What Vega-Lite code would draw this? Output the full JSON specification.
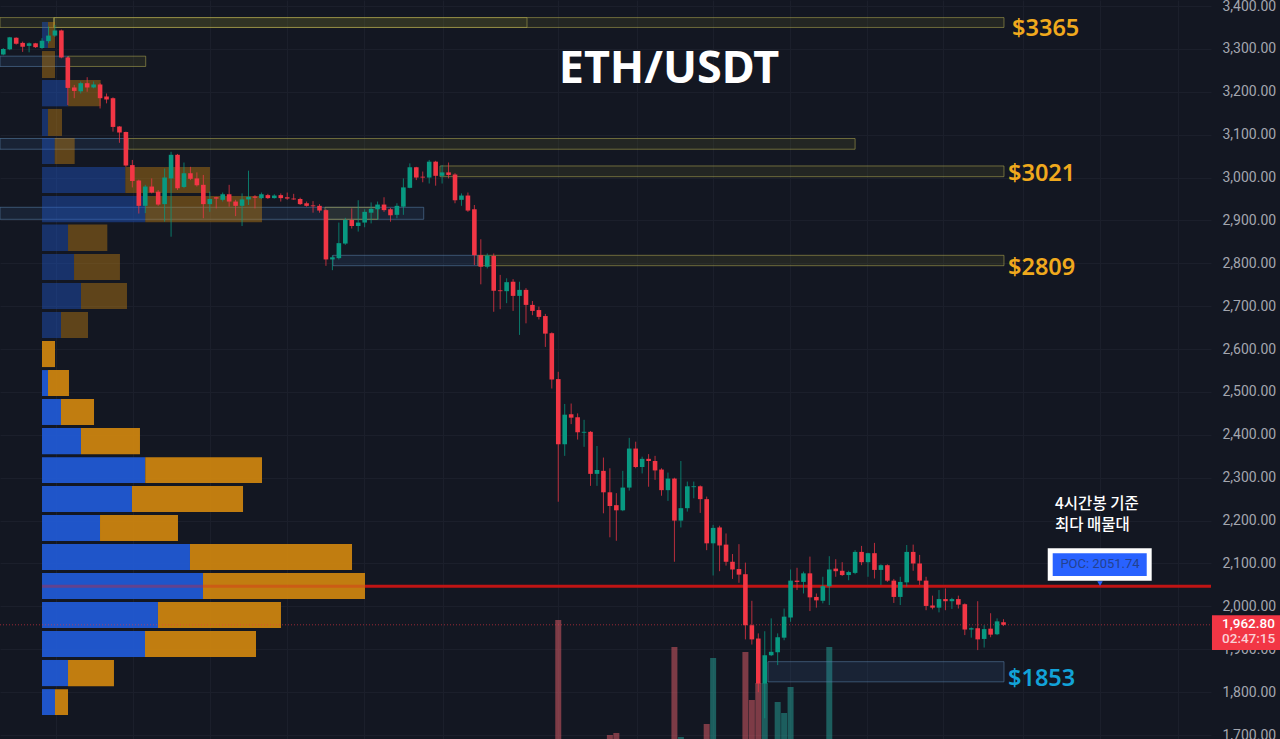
{"$schema":"https://vega.github.io/schema/vega-lite/v6.json","width":1211,"height":739,"autosize":{"type":"none"},"padding":{"left":0,"top":0,"right":69,"bottom":0},"background":"#131722","view":{"stroke":null},
"datasets":{
"candles":[
{"t":0,"o":3287,"h":3302,"l":3285,"c":3300},{"t":1,"o":3299,"h":3328,"l":3297,"c":3327},{"t":2,"o":3326,"h":3327,"l":3310,"c":3312},{"t":3,"o":3314,"h":3317,"l":3293,"c":3305},{"t":4,"o":3307,"h":3315,"l":3292,"c":3313},{"t":5,"o":3313,"h":3314,"l":3302,"c":3304},{"t":6,"o":3302,"h":3325,"l":3300,"c":3319},{"t":7,"o":3318,"h":3352,"l":3313,"c":3331},{"t":8,"o":3331,"h":3356,"l":3328,"c":3343},{"t":9,"o":3343,"h":3345,"l":3278,"c":3280},
{"t":10,"o":3280,"h":3281,"l":3169,"c":3209},{"t":11,"o":3210,"h":3216,"l":3185,"c":3202},{"t":12,"o":3201,"h":3224,"l":3196,"c":3220},{"t":13,"o":3220,"h":3234,"l":3200,"c":3210},{"t":14,"o":3210,"h":3224,"l":3208,"c":3217},{"t":15,"o":3217,"h":3220,"l":3161,"c":3185},{"t":16,"o":3189,"h":3196,"l":3173,"c":3182},{"t":17,"o":3185,"h":3187,"l":3107,"c":3118},{"t":18,"o":3119,"h":3120,"l":3081,"c":3105},{"t":19,"o":3106,"h":3107,"l":3025,"c":3028},
{"t":20,"o":3029,"h":3041,"l":2977,"c":2992},{"t":21,"o":2993,"h":2995,"l":2916,"c":2934},{"t":22,"o":2934,"h":2983,"l":2917,"c":2979},{"t":23,"o":2979,"h":2998,"l":2963,"c":2965},{"t":24,"o":2967,"h":2971,"l":2934,"c":2937},{"t":25,"o":2938,"h":3021,"l":2897,"c":3000},{"t":26,"o":2998,"h":3060,"l":2862,"c":3053},{"t":27,"o":3053,"h":3055,"l":2971,"c":2975},{"t":28,"o":2978,"h":3035,"l":2975,"c":3010},{"t":29,"o":3010,"h":3025,"l":2994,"c":2997},
{"t":30,"o":2998,"h":3012,"l":2979,"c":2982},{"t":31,"o":2983,"h":3006,"l":2905,"c":2938},{"t":32,"o":2938,"h":2967,"l":2920,"c":2950},{"t":33,"o":2954,"h":2955,"l":2928,"c":2951},{"t":34,"o":2948,"h":2965,"l":2944,"c":2961},{"t":35,"o":2961,"h":2983,"l":2932,"c":2944},{"t":36,"o":2944,"h":2948,"l":2910,"c":2934},{"t":37,"o":2934,"h":2963,"l":2887,"c":2949},{"t":38,"o":2949,"h":3016,"l":2936,"c":2955},{"t":39,"o":2956,"h":2959,"l":2928,"c":2953},
{"t":40,"o":2952,"h":2965,"l":2950,"c":2961},{"t":41,"o":2959,"h":2962,"l":2950,"c":2952},{"t":42,"o":2952,"h":2961,"l":2951,"c":2958},{"t":43,"o":2959,"h":2963,"l":2944,"c":2952},{"t":44,"o":2954,"h":2965,"l":2948,"c":2951},{"t":45,"o":2951,"h":2962,"l":2948,"c":2949},{"t":46,"o":2950,"h":2953,"l":2936,"c":2938},{"t":47,"o":2940,"h":2944,"l":2932,"c":2934},{"t":48,"o":2935,"h":2945,"l":2918,"c":2933},{"t":49,"o":2934,"h":2938,"l":2918,"c":2923},
{"t":50,"o":2924,"h":2926,"l":2794,"c":2809},{"t":51,"o":2809,"h":2819,"l":2784,"c":2814},{"t":52,"o":2812,"h":2895,"l":2809,"c":2847},{"t":53,"o":2846,"h":2906,"l":2843,"c":2901},{"t":54,"o":2901,"h":2928,"l":2881,"c":2887},{"t":55,"o":2887,"h":2947,"l":2874,"c":2895},{"t":56,"o":2895,"h":2926,"l":2884,"c":2920},{"t":57,"o":2918,"h":2942,"l":2893,"c":2927},{"t":58,"o":2926,"h":2944,"l":2901,"c":2937},{"t":59,"o":2937,"h":2954,"l":2920,"c":2924},
{"t":60,"o":2926,"h":2929,"l":2897,"c":2912},{"t":61,"o":2913,"h":2940,"l":2905,"c":2934},{"t":62,"o":2932,"h":2998,"l":2913,"c":2977},{"t":63,"o":2976,"h":3033,"l":2975,"c":3024},{"t":64,"o":3024,"h":3025,"l":2994,"c":3000},{"t":65,"o":3002,"h":3014,"l":2989,"c":3000},{"t":66,"o":3000,"h":3041,"l":2986,"c":3037},{"t":67,"o":3037,"h":3039,"l":2981,"c":3004},{"t":68,"o":3004,"h":3029,"l":2986,"c":3012},{"t":69,"o":3012,"h":3035,"l":2998,"c":3006},
{"t":70,"o":3007,"h":3010,"l":2940,"c":2947},{"t":71,"o":2948,"h":2963,"l":2934,"c":2958},{"t":72,"o":2958,"h":2965,"l":2920,"c":2923},{"t":73,"o":2926,"h":2936,"l":2796,"c":2819},{"t":74,"o":2819,"h":2856,"l":2751,"c":2792},{"t":75,"o":2792,"h":2823,"l":2788,"c":2818},{"t":76,"o":2817,"h":2823,"l":2687,"c":2736},{"t":77,"o":2737,"h":2773,"l":2693,"c":2735},{"t":78,"o":2735,"h":2765,"l":2707,"c":2756},{"t":79,"o":2757,"h":2763,"l":2689,"c":2724},
{"t":80,"o":2724,"h":2757,"l":2633,"c":2738},{"t":81,"o":2738,"h":2742,"l":2660,"c":2703},{"t":82,"o":2703,"h":2712,"l":2679,"c":2689},{"t":83,"o":2691,"h":2699,"l":2669,"c":2675},{"t":84,"o":2677,"h":2682,"l":2605,"c":2636},{"t":85,"o":2637,"h":2639,"l":2508,"c":2529},{"t":86,"o":2530,"h":2547,"l":2244,"c":2378},{"t":87,"o":2378,"h":2472,"l":2351,"c":2447},{"t":88,"o":2448,"h":2473,"l":2425,"c":2440},{"t":89,"o":2441,"h":2450,"l":2389,"c":2406},
{"t":90,"o":2405,"h":2435,"l":2372,"c":2407},{"t":91,"o":2407,"h":2409,"l":2281,"c":2309},{"t":92,"o":2309,"h":2374,"l":2281,"c":2318},{"t":93,"o":2316,"h":2347,"l":2217,"c":2266},{"t":94,"o":2266,"h":2322,"l":2161,"c":2234},{"t":95,"o":2236,"h":2264,"l":2153,"c":2224},{"t":96,"o":2224,"h":2316,"l":2222,"c":2277},{"t":97,"o":2277,"h":2393,"l":2270,"c":2368},{"t":98,"o":2368,"h":2384,"l":2322,"c":2325},{"t":99,"o":2325,"h":2349,"l":2310,"c":2344},
{"t":100,"o":2344,"h":2355,"l":2279,"c":2339},{"t":101,"o":2339,"h":2351,"l":2295,"c":2317},{"t":102,"o":2319,"h":2322,"l":2258,"c":2271},{"t":103,"o":2271,"h":2312,"l":2246,"c":2298},{"t":104,"o":2298,"h":2300,"l":2104,"c":2200},{"t":105,"o":2200,"h":2339,"l":2184,"c":2229},{"t":106,"o":2229,"h":2291,"l":2221,"c":2280},{"t":107,"o":2278,"h":2291,"l":2252,"c":2280},{"t":108,"o":2280,"h":2282,"l":2218,"c":2250},{"t":109,"o":2250,"h":2256,"l":2131,"c":2147},
{"t":110,"o":2147,"h":2190,"l":2072,"c":2183},{"t":111,"o":2184,"h":2188,"l":2082,"c":2142},{"t":112,"o":2144,"h":2170,"l":2095,"c":2104},{"t":113,"o":2104,"h":2122,"l":2064,"c":2086},{"t":114,"o":2087,"h":2145,"l":2055,"c":2074},{"t":115,"o":2075,"h":2102,"l":1923,"c":1956},{"t":116,"o":1956,"h":2013,"l":1911,"c":1923},{"t":117,"o":1925,"h":1937,"l":1800,"c":1820},{"t":118,"o":1820,"h":1942,"l":1739,"c":1886},{"t":119,"o":1886,"h":1972,"l":1884,"c":1894},
{"t":120,"o":1893,"h":1937,"l":1863,"c":1928},{"t":121,"o":1927,"h":1995,"l":1921,"c":1976},{"t":122,"o":1974,"h":2086,"l":1964,"c":2060},{"t":123,"o":2060,"h":2090,"l":2038,"c":2057},{"t":124,"o":2057,"h":2081,"l":2030,"c":2077},{"t":125,"o":2077,"h":2116,"l":1989,"c":2021},{"t":126,"o":2022,"h":2030,"l":1997,"c":2014},{"t":127,"o":2013,"h":2069,"l":2007,"c":2047},{"t":128,"o":2047,"h":2117,"l":2003,"c":2086},{"t":129,"o":2088,"h":2110,"l":2069,"c":2082},
{"t":130,"o":2083,"h":2103,"l":2071,"c":2073},{"t":131,"o":2073,"h":2083,"l":2061,"c":2080},{"t":132,"o":2078,"h":2131,"l":2075,"c":2127},{"t":133,"o":2127,"h":2141,"l":2096,"c":2103},{"t":134,"o":2103,"h":2125,"l":2069,"c":2124},{"t":135,"o":2124,"h":2148,"l":2065,"c":2085},{"t":136,"o":2085,"h":2098,"l":2050,"c":2096},{"t":137,"o":2096,"h":2098,"l":2057,"c":2060},{"t":138,"o":2060,"h":2064,"l":2008,"c":2022},{"t":139,"o":2022,"h":2069,"l":2003,"c":2057},
{"t":140,"o":2056,"h":2143,"l":2046,"c":2127},{"t":141,"o":2127,"h":2144,"l":2083,"c":2100},{"t":142,"o":2100,"h":2120,"l":2050,"c":2060},{"t":143,"o":2060,"h":2069,"l":1991,"c":2001},{"t":144,"o":2002,"h":2025,"l":1993,"c":1997},{"t":145,"o":1997,"h":2038,"l":1986,"c":2017},{"t":146,"o":2017,"h":2042,"l":1991,"c":2012},{"t":147,"o":2012,"h":2020,"l":1994,"c":2017},{"t":148,"o":2017,"h":2025,"l":1995,"c":2004},{"t":149,"o":2005,"h":2007,"l":1933,"c":1946},
{"t":150,"o":1946,"h":1951,"l":1927,"c":1949},{"t":151,"o":1949,"h":2012,"l":1898,"c":1923},{"t":152,"o":1924,"h":1956,"l":1904,"c":1947},{"t":153,"o":1948,"h":1984,"l":1928,"c":1934},{"t":154,"o":1935,"h":1972,"l":1933,"c":1965},{"t":155,"o":1963,"h":1970,"l":1954,"c":1957}
],
"volume":[{"t":86,"vol":119,"dir":"down"},{"t":94,"vol":4,"dir":"down"},{"t":95,"vol":6,"dir":"down"},{"t":104,"vol":92,"dir":"down"},{"t":105,"vol":2,"dir":"up"},{"t":109,"vol":15,"dir":"down"},{"t":110,"vol":81,"dir":"up"},{"t":115,"vol":87,"dir":"down"},{"t":116,"vol":39,"dir":"down"},{"t":117,"vol":56,"dir":"down"},{"t":118,"vol":56,"dir":"up"},{"t":120,"vol":37,"dir":"up"},{"t":121,"vol":26,"dir":"up"},{"t":122,"vol":52,"dir":"up"},{"t":128,"vol":92,"dir":"up"}],
"zones":[
{"t0":7.86,"t1":155.07,"hi":3373,"lo":3350,"kind":"supply"},{"t0":7.86,"t1":81.16,"hi":3373,"lo":3350,"kind":"supply"},{"t0":-0.51,"t1":7.86,"hi":3373,"lo":3350,"kind":"supply"},
{"t0":-0.51,"t1":10.03,"hi":3283,"lo":3259,"kind":"demand"},{"t0":10.03,"t1":22.07,"hi":3283,"lo":3259,"kind":"supply"},
{"t0":-0.51,"t1":19.32,"hi":3091,"lo":3066,"kind":"demand"},{"t0":19.32,"t1":132,"hi":3091,"lo":3066,"kind":"supply"},
{"t0":67.67,"t1":155.07,"hi":3027,"lo":3002,"kind":"supply"},
{"t0":-0.51,"t1":65.15,"hi":2930.6,"lo":2902.6,"kind":"demand"},{"t0":49.85,"t1":58.07,"hi":2930.6,"lo":2902.6,"kind":"supply"},
{"t0":51.09,"t1":73.56,"hi":2818.6,"lo":2794.4,"kind":"demand"},{"t0":73.56,"t1":155.07,"hi":2818.6,"lo":2794.4,"kind":"supply"},
{"t0":118.5,"t1":155.07,"hi":1871,"lo":1824,"kind":"demand"}],
"profile":[
{"lo":3302,"hi":3362.7,"from":6,"to":6.93,"side":"buy","part":"upper"},{"lo":3302,"hi":3362.7,"from":6.93,"to":8.01,"side":"sell","part":"upper"},
{"lo":3232,"hi":3295,"from":6,"to":8.01,"side":"sell","part":"upper"},
{"lo":3166,"hi":3227.4,"from":6,"to":10.03,"side":"buy","part":"upper"},{"lo":3166,"hi":3227.4,"from":10.03,"to":15.09,"side":"sell","part":"upper"},
{"lo":3097,"hi":3160,"from":6,"to":6.93,"side":"buy","part":"upper"},{"lo":3097,"hi":3160,"from":6.93,"to":9.1,"side":"sell","part":"upper"},
{"lo":3031.6,"hi":3092,"from":6,"to":7.97,"side":"buy","part":"upper"},{"lo":3031.6,"hi":3092,"from":7.97,"to":11.06,"side":"sell","part":"upper"},
{"lo":2964,"hi":3024.6,"from":6,"to":18.91,"side":"buy","part":"upper"},{"lo":2964,"hi":3024.6,"from":18.91,"to":32.03,"side":"sell","part":"upper"},
{"lo":2896,"hi":2957,"from":6,"to":22,"side":"buy","part":"upper"},{"lo":2896,"hi":2957,"from":22,"to":40.09,"side":"sell","part":"upper"},
{"lo":2828.7,"hi":2890.5,"from":6,"to":10.03,"side":"buy","part":"upper"},{"lo":2828.7,"hi":2890.5,"from":10.03,"to":16.12,"side":"sell","part":"upper"},
{"lo":2761,"hi":2821.7,"from":6,"to":10.96,"side":"buy","part":"upper"},{"lo":2761,"hi":2821.7,"from":10.96,"to":18.08,"side":"sell","part":"upper"},
{"lo":2693.4,"hi":2754,"from":6,"to":12.04,"side":"buy","part":"upper"},{"lo":2693.4,"hi":2754,"from":12.04,"to":19.17,"side":"sell","part":"upper"},
{"lo":2625.8,"hi":2686.4,"from":6,"to":8.94,"side":"buy","part":"upper"},{"lo":2625.8,"hi":2686.4,"from":8.94,"to":13.13,"side":"sell","part":"upper"},
{"lo":2558,"hi":2618.8,"from":6,"to":8.01,"side":"sell","part":"lower"},
{"lo":2490.5,"hi":2551,"from":6,"to":6.93,"side":"buy","part":"lower"},{"lo":2490.5,"hi":2551,"from":6.93,"to":10.18,"side":"sell","part":"lower"},
{"lo":2423,"hi":2483.5,"from":6,"to":8.94,"side":"buy","part":"lower"},{"lo":2423,"hi":2483.5,"from":8.94,"to":14.06,"side":"sell","part":"lower"},
{"lo":2355,"hi":2416,"from":6,"to":12.04,"side":"buy","part":"lower"},{"lo":2355,"hi":2416,"from":12.04,"to":21.18,"side":"sell","part":"lower"},
{"lo":2287.6,"hi":2348,"from":6,"to":22,"side":"buy","part":"lower"},{"lo":2287.6,"hi":2348,"from":22,"to":40.09,"side":"sell","part":"lower"},
{"lo":2220,"hi":2280.7,"from":6,"to":19.94,"side":"buy","part":"lower"},{"lo":2220,"hi":2280.7,"from":19.94,"to":37.15,"side":"sell","part":"lower"},
{"lo":2152.4,"hi":2213,"from":6,"to":14.99,"side":"buy","part":"lower"},{"lo":2152.4,"hi":2213,"from":14.99,"to":27.07,"side":"sell","part":"lower"},
{"lo":2084.8,"hi":2145.4,"from":6,"to":28.93,"side":"buy","part":"lower"},{"lo":2084.8,"hi":2145.4,"from":28.93,"to":54.04,"side":"sell","part":"lower"},
{"lo":2017,"hi":2077.8,"from":6,"to":30.95,"side":"buy","part":"lower"},{"lo":2017,"hi":2077.8,"from":30.95,"to":56.05,"side":"sell","part":"lower"},
{"lo":1949.5,"hi":2010,"from":6,"to":23.97,"side":"buy","part":"lower"},{"lo":1949.5,"hi":2010,"from":23.97,"to":43.03,"side":"sell","part":"lower"},
{"lo":1882,"hi":1942.5,"from":6,"to":21.96,"side":"buy","part":"lower"},{"lo":1882,"hi":1942.5,"from":21.96,"to":39.16,"side":"sell","part":"lower"},
{"lo":1814,"hi":1875,"from":6,"to":10.03,"side":"buy","part":"lower"},{"lo":1814,"hi":1875,"from":10.03,"to":17.15,"side":"sell","part":"lower"},
{"lo":1746.6,"hi":1807,"from":6,"to":8.01,"side":"buy","part":"lower"},{"lo":1746.6,"hi":1807,"from":8.01,"to":10.03,"side":"sell","part":"lower"}]
},
"layer":[
{"data":{"name":"volume"},"mark":{"type":"bar","size":6,"opacity":0.5},"encoding":{
"x":{"field":"t","type":"quantitative","scale":{"domain":[-0.51,187.15],"nice":false,"zero":false,"padding":0}},
"y":{"field":"vol","type":"quantitative","scale":{"domain":[0,739],"nice":false},"axis":null},
"color":{"field":"dir","type":"nominal","scale":{"domain":["up","down"],"range":["#26a69a","#e8606a"]},"legend":null}}},
{"layer":[
{"data":{"name":"zones"},"mark":{"type":"rect","strokeWidth":1,"fillOpacity":0.15,"strokeOpacity":0.55},"encoding":{
"x":{"field":"t0","type":"quantitative","scale":{"domain":[-0.51,187.15],"nice":false,"zero":false,"padding":0},"axis":{"values":[8.17,20.1,32.03,43.96,55.9,68.1,86,98.2,110,121.9,133.8,145.6,158,169.95,182],"labels":false,"ticks":false,"domain":false,"title":null,"grid":true,"gridColor":"#1b1f2b"}},"x2":{"field":"t1"},
"y":{"field":"lo","type":"quantitative","scale":{"domain":[1690.7,3414],"nice":false,"zero":false},"axis":{"orient":"right","values":[1700,1800,1900,2000,2100,2200,2300,2400,2500,2600,2700,2800,2900,3000,3100,3200,3300,3400],"format":",.2f","title":null,"domain":false,"ticks":false,"labelPadding":11,"labelColor":"#a3a6af","labelFont":"Roboto","labelFontSize":14,"grid":true,"gridColor":"#1b1f2b"}},"y2":{"field":"hi"},
"fill":{"field":"kind","type":"nominal","scale":{"domain":["supply","demand"],"range":["#808030","#3c6eaa"]},"legend":null},
"stroke":{"field":"kind","type":"nominal","scale":{"domain":["supply","demand"],"range":["#b0aa50","#5a82aa"]},"legend":null}}},
{"data":{"values":[{"a":56.05,"b":187.15,"p":2047}]},"mark":{"type":"rule","color":"#c01414","strokeWidth":3},"encoding":{
"x":{"field":"a","type":"quantitative","scale":{"domain":[-0.51,187.15],"nice":false,"zero":false,"padding":0}},"x2":{"field":"b"},
"y":{"field":"p","type":"quantitative","scale":{"domain":[1690.7,3414],"nice":false,"zero":false}}}},
{"data":{"name":"profile"},"mark":{"type":"rect"},"encoding":{
"x":{"field":"from","type":"quantitative","scale":{"domain":[-0.51,187.15],"nice":false,"zero":false,"padding":0}},"x2":{"field":"to"},
"y":{"field":"lo","type":"quantitative","scale":{"domain":[1690.7,3414],"nice":false,"zero":false}},"y2":{"field":"hi"},
"color":{"field":"side","type":"nominal","scale":{"domain":["buy","sell"],"range":["#2058d0","#c98210"]},"legend":null},
"opacity":{"field":"part","type":"nominal","scale":{"domain":["upper","lower"],"range":[0.42,0.96]},"legend":null}}},
{"data":{"values":[{"a":6,"b":56.05,"p":2047}]},"mark":{"type":"rule","color":"#e02020","strokeWidth":3,"opacity":0.35},"encoding":{
"x":{"field":"a","type":"quantitative","scale":{"domain":[-0.51,187.15],"nice":false,"zero":false,"padding":0}},"x2":{"field":"b"},
"y":{"field":"p","type":"quantitative","scale":{"domain":[1690.7,3414],"nice":false,"zero":false}}}},
{"data":{"values":[{"a":-0.51,"b":187.15,"p":1957}]},"mark":{"type":"rule","color":"#f23645","strokeWidth":1,"strokeDash":[1,2],"opacity":0.6},"encoding":{
"x":{"field":"a","type":"quantitative","scale":{"domain":[-0.51,187.15],"nice":false,"zero":false,"padding":0}},"x2":{"field":"b"},
"y":{"field":"p","type":"quantitative","scale":{"domain":[1690.7,3414],"nice":false,"zero":false}}}},
{"data":{"name":"candles"},"mark":{"type":"rule","strokeWidth":1,"opacity":0.75},"encoding":{
"x":{"field":"t","type":"quantitative","scale":{"domain":[-0.51,187.15],"nice":false,"zero":false,"padding":0}},
"y":{"field":"h","type":"quantitative","scale":{"domain":[1690.7,3414],"nice":false,"zero":false}},"y2":{"field":"l"},
"color":{"condition":{"test":"datum.c>=datum.o","value":"#089981"},"value":"#f23645"}}},
{"data":{"name":"candles"},"mark":{"type":"bar","size":4.6},"encoding":{
"x":{"field":"t","type":"quantitative","scale":{"domain":[-0.51,187.15],"nice":false,"zero":false,"padding":0}},
"y":{"field":"o","type":"quantitative","scale":{"domain":[1690.7,3414],"nice":false,"zero":false}},"y2":{"field":"c"},
"color":{"condition":{"test":"datum.c>=datum.o","value":"#089981"},"value":"#f23645"}}},
{"data":{"values":[{"a":187.3,"b":198,"hi":1979,"lo":1898}]},"mark":{"type":"rect","color":"#f23645"},"encoding":{
"x":{"field":"a","type":"quantitative","scale":{"domain":[-0.51,187.15],"nice":false,"zero":false,"padding":0}},"x2":{"field":"b"},
"y":{"field":"lo","type":"quantitative","scale":{"domain":[1690.7,3414],"nice":false,"zero":false}},"y2":{"field":"hi"}}},
{"data":{"values":[{"a":161.85,"b":177.96,"hi":2135.4,"lo":2059.8,"box":"frame"},{"a":162.62,"b":177.19,"hi":2123.7,"lo":2070.8,"box":"fill"}]},"mark":{"type":"rect"},"encoding":{
"x":{"field":"a","type":"quantitative","scale":{"domain":[-0.51,187.15],"nice":false,"zero":false,"padding":0}},"x2":{"field":"b"},
"y":{"field":"lo","type":"quantitative","scale":{"domain":[1690.7,3414],"nice":false,"zero":false}},"y2":{"field":"hi"},
"color":{"field":"box","type":"nominal","scale":{"domain":["frame","fill"],"range":["#ffffff","#2962ff"]},"legend":null}}},
{"data":{"values":[{"t":169.95,"p":2053}]},"mark":{"type":"point","shape":"triangle-down","filled":true,"size":30,"color":"#2962ff","opacity":1},"encoding":{
"x":{"field":"t","type":"quantitative","scale":{"domain":[-0.51,187.15],"nice":false,"zero":false,"padding":0}},
"y":{"field":"p","type":"quantitative","scale":{"domain":[1690.7,3414],"nice":false,"zero":false}}}},
{"data":{"values":[{"t":169.95,"p":2098,"label":"POC: 2051.74"}]},"mark":{"type":"text","font":"Roboto","fontSize":13,"color":"#23418f","align":"center","baseline":"middle"},"encoding":{
"x":{"field":"t","type":"quantitative","scale":{"domain":[-0.51,187.15],"nice":false,"zero":false,"padding":0}},
"y":{"field":"p","type":"quantitative","scale":{"domain":[1690.7,3414],"nice":false,"zero":false}},"text":{"field":"label"}}},
{"data":{"values":[{"t":103.16,"p":3254,"label":"ETH/USDT"}]},"mark":{"type":"text","font":"Noto Sans","fontWeight":"bold","fontSize":45,"color":"#ffffff","align":"center","baseline":"middle"},"encoding":{
"x":{"field":"t","type":"quantitative","scale":{"domain":[-0.51,187.15],"nice":false,"zero":false,"padding":0}},
"y":{"field":"p","type":"quantitative","scale":{"domain":[1690.7,3414],"nice":false,"zero":false}},"text":{"field":"label"}}},
{"data":{"values":[{"t":156.32,"p":3346,"label":"$3365","level":"resistance"},{"t":155.7,"p":3008,"label":"$3021","level":"resistance"},{"t":155.7,"p":2789,"label":"$2809","level":"resistance"},{"t":155.7,"p":1830,"label":"$1853","level":"support"}]},"mark":{"type":"text","font":"Noto Sans","fontWeight":600,"fontSize":23.5,"align":"left","baseline":"middle"},"encoding":{
"x":{"field":"t","type":"quantitative","scale":{"domain":[-0.51,187.15],"nice":false,"zero":false,"padding":0}},
"y":{"field":"p","type":"quantitative","scale":{"domain":[1690.7,3414],"nice":false,"zero":false}},"text":{"field":"label"},
"color":{"field":"level","type":"nominal","scale":{"domain":["resistance","support"],"range":["#f0a91d","#12a3d8"]},"legend":null}}},
{"data":{"values":[{"t":162.98,"p":2239,"label":"4시간봉 기준"},{"t":162.98,"p":2189,"label":"최다 매물대"}]},"mark":{"type":"text","font":"Noto Sans CJK KR","fontWeight":500,"fontSize":15.5,"color":"#ffffff","align":"left","baseline":"middle"},"encoding":{
"x":{"field":"t","type":"quantitative","scale":{"domain":[-0.51,187.15],"nice":false,"zero":false,"padding":0}},
"y":{"field":"p","type":"quantitative","scale":{"domain":[1690.7,3414],"nice":false,"zero":false}},"text":{"field":"label"}}},
{"data":{"values":[{"t":188.86,"p":1959,"label":"1,962.80","line":"price"},{"t":188.86,"p":1923,"label":"02:47:15","line":"countdown"}]},"mark":{"type":"text","font":"Roboto","fontSize":13.5,"fontWeight":500,"align":"left","baseline":"middle"},"encoding":{
"x":{"field":"t","type":"quantitative","scale":{"domain":[-0.51,187.15],"nice":false,"zero":false,"padding":0}},
"y":{"field":"p","type":"quantitative","scale":{"domain":[1690.7,3414],"nice":false,"zero":false}},"text":{"field":"label"},
"color":{"field":"line","type":"nominal","scale":{"domain":["price","countdown"],"range":["#ffffff","#fbd0d5"]},"legend":null}}}
],"resolve":{"scale":{"color":"independent","fill":"independent","stroke":"independent"}}}
],
"resolve":{"scale":{"y":"independent","color":"independent"}}
}
